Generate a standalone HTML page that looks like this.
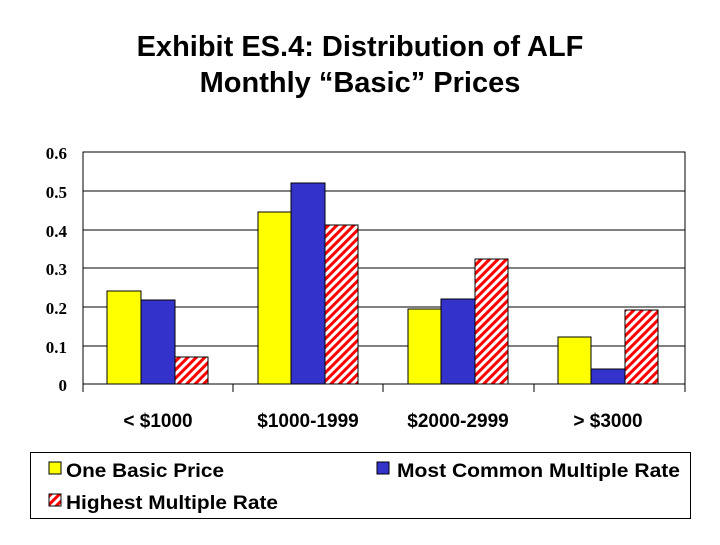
<!DOCTYPE html>
<html><head><style>
body{margin:0;background:#fff;}
.s{font-family:"Liberation Sans",Arial,sans-serif;}
.r{font-family:"Liberation Serif",serif;}
</style></head><body>
<svg width="720" height="540" viewBox="0 0 720 540" xmlns="http://www.w3.org/2000/svg">
<defs>
<pattern id="h" width="6" height="6" patternUnits="userSpaceOnUse" patternTransform="rotate(45)">
<rect width="6" height="6" fill="#fff"/><rect width="3" height="6" fill="#f00"/>
</pattern>
</defs>
<text class="s" x="360" y="56" text-anchor="middle" font-size="29" font-weight="bold">Exhibit ES.4: Distribution of ALF</text>
<text class="s" x="360" y="92" text-anchor="middle" font-size="29" font-weight="bold">Monthly “Basic” Prices</text>
<g stroke="#000" stroke-width="1">
<line x1="83" y1="191" x2="685" y2="191"/>
<line x1="83" y1="230" x2="685" y2="230"/>
<line x1="83" y1="268" x2="685" y2="268"/>
<line x1="83" y1="307" x2="685" y2="307"/>
<line x1="83" y1="346" x2="685" y2="346"/>
<rect x="83" y="152" width="602" height="232" fill="none"/>
<line x1="233" y1="384" x2="233" y2="392"/>
<line x1="383" y1="384" x2="383" y2="392"/>
<line x1="534" y1="384" x2="534" y2="392"/>
<line x1="685" y1="384" x2="685" y2="392"/>
<line x1="83" y1="384" x2="83" y2="392"/>
</g>
<g class="r" font-weight="bold" font-size="17" text-anchor="end">
<text x="67" y="159">0.6</text>
<text x="67" y="198">0.5</text>
<text x="67" y="237">0.4</text>
<text x="67" y="275">0.3</text>
<text x="67" y="314">0.2</text>
<text x="67" y="353">0.1</text>
<text x="67" y="391">0</text>
</g>
<g stroke="#000" stroke-width="1">
<rect x="107" y="291" width="34" height="93" fill="#ff0"/>
<rect x="141" y="300" width="34" height="84" fill="#33c"/>
<rect x="175" y="357" width="33" height="27" fill="url(#h)"/>
<rect x="258" y="212" width="33" height="172" fill="#ff0"/>
<rect x="291" y="183" width="34" height="201" fill="#33c"/>
<rect x="325" y="225" width="33" height="159" fill="url(#h)"/>
<rect x="408" y="309" width="33" height="75" fill="#ff0"/>
<rect x="441" y="299" width="34" height="85" fill="#33c"/>
<rect x="475" y="259" width="33" height="125" fill="url(#h)"/>
<rect x="558" y="337" width="33" height="47" fill="#ff0"/>
<rect x="591" y="369" width="34" height="15" fill="#33c"/>
<rect x="625" y="310" width="33" height="74" fill="url(#h)"/>
</g>
<g class="s" font-size="19" font-weight="bold" text-anchor="middle">
<text x="158" y="427">&lt; $1000</text>
<text x="308" y="427">$1000-1999</text>
<text x="458" y="427">$2000-2999</text>
<text x="608" y="427">&gt; $3000</text>
</g>
<rect x="30.5" y="452.5" width="660" height="66" fill="none" stroke="#000"/>
<g stroke="#000" stroke-width="1">
<rect x="49" y="462" width="12" height="12" fill="#ff0"/>
<rect x="377" y="462" width="12" height="12" fill="#33c"/>
<rect x="49" y="494" width="12" height="12" fill="url(#h)"/>
</g>
<g class="s" font-size="19" font-weight="bold">
<text x="66" y="477" textLength="158" lengthAdjust="spacingAndGlyphs">One Basic Price</text>
<text x="397" y="477" textLength="283" lengthAdjust="spacingAndGlyphs">Most Common Multiple Rate</text>
<text x="66" y="509" textLength="212" lengthAdjust="spacingAndGlyphs">Highest Multiple Rate</text>
</g>
</svg>
</body></html>
